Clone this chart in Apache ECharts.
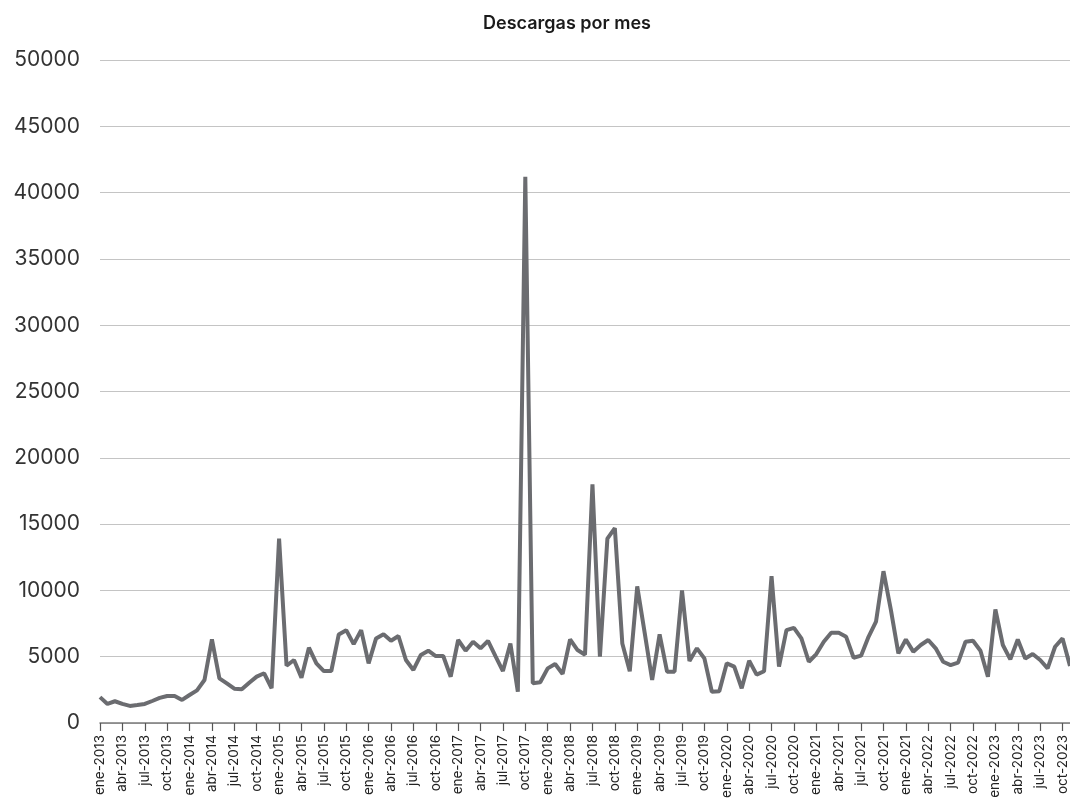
<!DOCTYPE html>
<html><head><meta charset="utf-8">
<script src="https://cdn.jsdelivr.net/npm/echarts@6/dist/echarts.min.js"></script>
<style>html,body{margin:0;padding:0;background:#fff}#c{width:1070px;height:803px}</style>
</head><body><div id="c"></div>
<script>
const monthNames = ['ene','feb','mar','abr','may','jun','jul','ago','sep','oct','nov','dic'];
const firstYear = 2013;
const monthCount = 131; // ene-2013 .. nov-2023

// Tick labels shown every 3 months (as printed on the original, incl. its "ene-2021" repeat)
const tickLabels = [
  'ene-2013','abr-2013','jul-2013','oct-2013',
  'ene-2014','abr-2014','jul-2014','oct-2014',
  'ene-2015','abr-2015','jul-2015','oct-2015',
  'ene-2016','abr-2016','jul-2016','oct-2016',
  'ene-2017','abr-2017','jul-2017','oct-2017',
  'ene-2018','abr-2018','jul-2018','oct-2018',
  'ene-2019','abr-2019','jul-2019','oct-2019',
  'ene-2020','abr-2020','jul-2020','oct-2020',
  'ene-2021','abr-2021','jul-2021','oct-2021',
  'ene-2021','abr-2022','jul-2022','oct-2022',
  'ene-2023','abr-2023','jul-2023','oct-2023'
];

const downloads = [
  // 2013
  1950,1440,1640,1440,1290,1360,1440,1660,1890,2040,2040,1740,
  // 2014
  2110,2460,3240,6300,3370,2990,2590,2540,3040,3500,3750,2620,
  // 2015
  13900,4320,4750,3420,5680,4500,3920,3920,6680,7000,5950,7000,
  // 2016
  4500,6380,6700,6200,6560,4750,4000,5130,5450,5050,5050,3490,
  // 2017
  6260,5450,6130,5630,6200,5050,3920,6000,2360,41200,3000,3070,
  // 2018
  4120,4450,3700,6300,5500,5150,18000,5000,13900,14700,6000,3900,
  // 2019
  10300,6800,3240,6680,3870,3870,10000,4670,5630,4870,2360,2400,
  // 2020
  4500,4250,2620,4700,3650,3900,11070,4250,7000,7180,6380,4620,
  // 2021
  5200,6130,6800,6800,6500,4920,5080,6500,7640,11450,8510,5250,
  // 2022
  6300,5380,5880,6260,5630,4620,4370,4550,6130,6200,5450,3490,
  // 2023
  8560,5880,4800,6300,4870,5200,4750,4120,5750,6380,4300
];

const yTicks = { min: 0, max: 50000, interval: 5000 };

const categories = [];
for (let i = 0; i < monthCount; i++) {
  categories.push(monthNames[i % 12] + '-' + (firstYear + Math.floor(i / 12)));
}

const FONT = 'Inter, "Liberation Sans", sans-serif';
const chart = echarts.init(document.getElementById('c'), null, { renderer: 'canvas' });
chart.setOption({
  backgroundColor: '#ffffff',
  animation: false,
  title: {
    text: 'Descargas por mes',
    left: 562,
    top: 10,
    textAlign: 'center',
    textStyle: { fontFamily: FONT, fontSize: 18, fontWeight: 600, color: '#1a1a1a' }
  },
  grid: { left: 100, right: -3, top: 60, bottom: 80, containLabel: false },
  xAxis: {
    type: 'category',
    data: categories,
    boundaryGap: false,
    axisLine: { show: true, lineStyle: { color: '#7a7a7a', width: 1.5 } },
    axisTick: { show: true, interval: 2, length: 8, lineStyle: { color: '#555', width: 1.2 } },
    axisLabel: {
      interval: 2,
      rotate: 90,
      margin: 12,
      fontFamily: FONT,
      fontSize: 13.5,
      color: '#222',
      formatter: function (v, idx) { return tickLabels[Math.round(idx / 3)] || ''; }
    },
    splitLine: { show: false }
  },
  yAxis: {
    type: 'value',
    min: yTicks.min,
    max: yTicks.max,
    interval: yTicks.interval,
    axisLine: { show: false },
    axisTick: { show: false },
    axisLabel: {
      fontFamily: FONT, fontSize: 21, color: '#333', margin: 20,
      formatter: function (v) { return String(v); }
    },
    splitLine: { show: true, lineStyle: { color: '#c4c4c4', width: 1 } }
  },
  series: [{
    type: 'line',
    data: downloads,
    symbol: 'none',
    clip: false,
    lineStyle: { color: '#6b6c70', width: 4 }
  }]
});
</script>
</body></html>
